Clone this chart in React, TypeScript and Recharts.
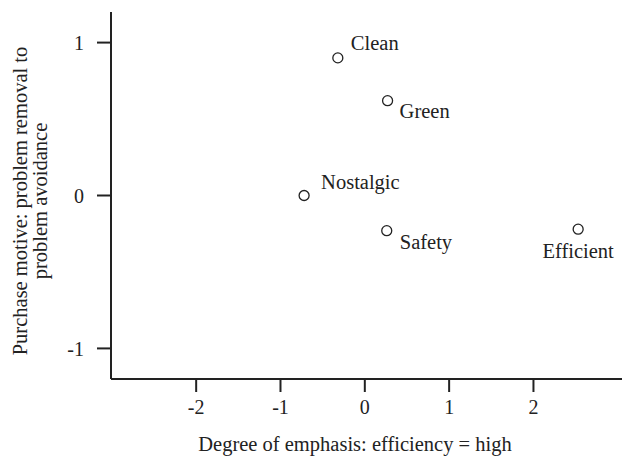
import { ScatterChart, Scatter, XAxis, YAxis, Label } from 'recharts';

// product image positions
const NAMES = ['Clean', 'Green', 'Nostalgic', 'Safety', 'Efficient'];
const EMPHASIS = [-0.32, 0.27, -0.72, 0.26, 2.53];
const MOTIVE = [0.9, 0.62, 0, -0.23, -0.22];

const X_TICKS = [-2, -1, 0, 1, 2];
const Y_TICKS = [-1, 0, 1];

const FONT = '"Liberation Serif", "Times New Roman", serif';
const INK = '#222';
const FS = 20.5;

// where each name sits relative to its marker
const LABEL_PLACE: Record<string, { dx: number; dy: number; anchor: string }> = {
  Clean: { dx: 13, dy: -13, anchor: 'start' },
  Green: { dx: 12, dy: 13, anchor: 'start' },
  Nostalgic: { dx: 17, dy: -11, anchor: 'start' },
  Safety: { dx: 13, dy: 14, anchor: 'start' },
  Efficient: { dx: 0, dy: 24, anchor: 'middle' },
};

const data = NAMES.map((name, i) => ({ name, x: EMPHASIS[i], y: MOTIVE[i] }));

const Marker = (props: any) => {
  const { cx, cy, payload } = props;
  const p = LABEL_PLACE[payload.name] || { dx: 10, dy: 0, anchor: 'start' };
  return (
    <g>
      <circle cx={cx} cy={cy} r={5} fill="#fff" stroke={INK} strokeWidth={1.3} />
      <text
        x={cx + p.dx}
        y={cy + p.dy}
        textAnchor={p.anchor}
        dominantBaseline="middle"
        fontFamily={FONT}
        fontSize={FS}
        fill={INK}
      >
        {payload.name}
      </text>
    </g>
  );
};

const XTitle = () => (
  <text
    x={355}
    y={446}
    textAnchor="middle"
    dominantBaseline="middle"
    fontFamily={FONT}
    fontSize={FS}
    fill={INK}
  >
    Degree of emphasis: efficiency = high
  </text>
);

const YTitle = () => {
  const cy = 201;
  const lines = ['Purchase motive: problem removal to', 'problem avoidance'];
  const xs = [22, 42];
  return (
    <g>
      {lines.map((l, i) => (
        <text
          key={i}
          x={xs[i]}
          y={cy}
          transform={`rotate(-90, ${xs[i]}, ${cy})`}
          textAnchor="middle"
          dominantBaseline="middle"
          fontFamily={FONT}
          fontSize={FS}
          fill={INK}
        >
          {l}
        </text>
      ))}
    </g>
  );
};

export default function App() {
  return (
    <div style={{ position: 'fixed', top: 0, left: 0, width: 625, height: 457, background: '#fff' }}>
      <ScatterChart width={625} height={457} margin={{ top: 12, right: 3, bottom: 0, left: 0 }}>
        <XAxis
          type="number"
          dataKey="x"
          domain={[-3.01, 3.05]}
          ticks={X_TICKS}
          tickSize={13}
          tickMargin={8}
          height={78}
          axisLine={{ stroke: INK, strokeWidth: 2 }}
          tickLine={{ stroke: INK, strokeWidth: 2 }}
          tick={{ fill: INK, fontSize: 20, fontFamily: FONT }}
        >
          <Label content={<XTitle />} />
        </XAxis>
        <YAxis
          type="number"
          dataKey="y"
          domain={[-1.2, 1.2]}
          ticks={Y_TICKS}
          width={111}
          tickSize={14}
          tickMargin={13}
          axisLine={{ stroke: INK, strokeWidth: 2 }}
          tickLine={{ stroke: INK, strokeWidth: 2 }}
          tick={{ fill: INK, fontSize: 20, fontFamily: FONT }}
        >
          <Label content={<YTitle />} />
        </YAxis>
        <Scatter data={data} shape={<Marker />} isAnimationActive={false} />
      </ScatterChart>
    </div>
  );
}
